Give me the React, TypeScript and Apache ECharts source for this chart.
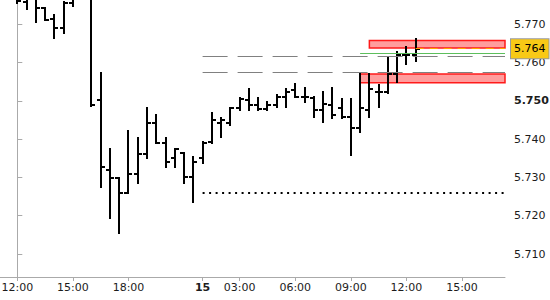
import { useEffect, useRef } from 'react';
import * as echarts from 'echarts';

// 30-minute OHLC bars (index = position on the time axis)
const barTimes = [
  '14 12:00', '14 12:30', '14 13:00', '14 13:30', '14 14:00', '14 14:30', '14 15:00', '14 15:30',
  '14 16:00', '14 16:30', '14 17:00', '14 17:30', '14 18:00', '14 18:30', '14 19:00', '14 19:30',
  '14 20:00', '14 20:30', '14 21:00', '14 21:30', '15 01:00', '15 01:30', '15 02:00', '15 02:30',
  '15 03:00', '15 03:30', '15 04:00', '15 04:30', '15 05:00', '15 05:30', '15 06:00', '15 06:30',
  '15 07:00', '15 07:30', '15 08:00', '15 08:30', '15 09:00', '15 09:30', '15 10:00', '15 10:30',
  '15 11:00', '15 11:30', '15 12:00', '15 12:30',
];
const opens = [
  5.7790, 5.7758, 5.7780, 5.7742, 5.7713, 5.7689, 5.7755, 5.7780,
  5.7790, 5.7502, 5.7319, 5.7298, 5.7259, 5.7309, 5.7360, 5.7442,
  5.7390, 5.7350, 5.7363, 5.7301, 5.7350, 5.7393, 5.7441, 5.7441,
  5.7480, 5.7502, 5.7489, 5.7478, 5.7489, 5.7510, 5.7528, 5.7510,
  5.7506, 5.7476, 5.7489, 5.7481, 5.7458, 5.7429, 5.7477, 5.7523,
  5.7523, 5.7571, 5.7619, 5.7619,
];
const highs = [
  5.7800, 5.7790, 5.7790, 5.7742, 5.7723, 5.7758, 5.7790, 5.7810,
  5.7800, 5.7573, 5.7374, 5.7298, 5.7421, 5.7403, 5.7481, 5.7463,
  5.7403, 5.7374, 5.7363, 5.7354, 5.7393, 5.7468, 5.7454, 5.7480,
  5.7506, 5.7532, 5.7506, 5.7497, 5.7515, 5.7532, 5.7543, 5.7533,
  5.7510, 5.7523, 5.7533, 5.7504, 5.7504, 5.7570, 5.7571, 5.7541,
  5.7611, 5.7628, 5.7641, 5.7660,
];
const lows = [
  5.7755, 5.7740, 5.7706, 5.7710, 5.7665, 5.7677, 5.7747, 5.7770,
  5.7487, 5.7276, 5.7194, 5.7156, 5.7259, 5.7286, 5.7350, 5.7390,
  5.7327, 5.7327, 5.7286, 5.7236, 5.7337, 5.7389, 5.7406, 5.7436,
  5.7476, 5.7476, 5.7476, 5.7476, 5.7484, 5.7484, 5.7510, 5.7497,
  5.7457, 5.7445, 5.7455, 5.7455, 5.7358, 5.7418, 5.7457, 5.7484,
  5.7519, 5.7549, 5.7597, 5.7604,
];
const closes = [
  5.7760, 5.7775, 5.7741, 5.7712, 5.7689, 5.7755, 5.7775, 5.7795,
  5.7489, 5.7328, 5.7298, 5.7258, 5.7309, 5.7360, 5.7442, 5.7390,
  5.7341, 5.7374, 5.7301, 5.7341, 5.7389, 5.7450, 5.7450, 5.7480,
  5.7504, 5.7489, 5.7478, 5.7489, 5.7510, 5.7522, 5.7510, 5.7510,
  5.7476, 5.7491, 5.7463, 5.7458, 5.7429, 5.7480, 5.7530, 5.7523,
  5.7571, 5.7619, 5.7619, 5.7636,
];

// Axis ticks
const xTickIndex = [0, 6, 12, 20, 24, 30, 36, 42, 48];
const xTickLabels = ['12:00', '15:00', '18:00', '15', '03:00', '06:00', '09:00', '12:00', '15:00'];
const xBoldLabels = ['15'];
const yTicks = [5.71, 5.72, 5.73, 5.74, 5.75, 5.76, 5.77];
const yBoldTicks = [5.75];

// Levels drawn on the chart
const dashedLevels = [5.7615, 5.7575];
const dashedStart = 20;
const dottedLevel = 5.7260;
const dottedStart = 20;
const greenLevel = 5.7624;
const greenStart = 37;
const redZones = [
  { start: 38, top: 5.7657, bottom: 5.7638 },
  { start: 37, top: 5.7570, bottom: 5.7547 },
];

const X_MIN = -1.867;
const X_MAX = 52.64;
const Y_MIN = 5.704;
const Y_MAX = 5.7763;

const FONT = 'DejaVu Sans';
const TEXT = '#1c1c1c';

export default function App() {
  const ref = useRef<HTMLDivElement>(null);

  useEffect(() => {
    if (!ref.current) return;
    const chart = echarts.init(ref.current, null, { renderer: 'svg' });

    const data = barTimes.map((_, i) => [i, opens[i], closes[i], lows[i], highs[i]]);
    const lastIdx = closes.length - 1;
    const lastClose = closes[lastIdx];

    const renderItem = (params: any, api: any) => {
      const x = api.value(0);
      const o = api.coord([x, api.value(1)]);
      const c = api.coord([x, api.value(2)]);
      const l = api.coord([x, api.value(3)]);
      const h = api.coord([x, api.value(4)]);
      const cx = Math.round(o[0]);
      const style = { stroke: '#000', lineWidth: 2, fill: null };
      return {
        type: 'group',
        children: [
          { type: 'line', shape: { x1: cx, y1: Math.round(h[1]) - 1, x2: cx, y2: Math.round(l[1]) + 1 }, style },
          { type: 'line', shape: { x1: cx - 4, y1: Math.round(o[1]), x2: cx, y2: Math.round(o[1]) }, style },
          { type: 'line', shape: { x1: cx, y1: Math.round(c[1]), x2: cx + 4, y2: Math.round(c[1]) }, style },
        ],
      };
    };

    const seg = (start: number, v: number, lineStyle: any) => [
      { coord: [start, v], lineStyle },
      { coord: [X_MAX, v] },
    ];

    const option: any = {
      animation: false,
      backgroundColor: '#fff',
      grid: { left: 0, top: 0, right: 45, bottom: 23, containLabel: false, outerBoundsMode: 'none' },
      xAxis: {
        type: 'value',
        min: X_MIN,
        max: X_MAX,
        splitLine: { show: false },
        axisLine: { show: true, onZero: false, lineStyle: { color: '#aaaaaa', width: 1 } },
        axisTick: { show: true, length: 4, customValues: xTickIndex, lineStyle: { color: '#aaaaaa' } },
        axisLabel: {
          customValues: xTickIndex,
          margin: 5,
          color: TEXT,
          fontSize: 11,
          fontFamily: FONT,
          formatter: (v: number) => {
            const k = xTickIndex.indexOf(Math.round(v));
            const s = k >= 0 ? xTickLabels[k] : '';
            return xBoldLabels.includes(s) ? `{b|${s}}` : s;
          },
          rich: { b: { fontWeight: 'bold', fontSize: 11, fontFamily: FONT, color: TEXT } },
        },
      },
      yAxis: {
        type: 'value',
        position: 'right',
        min: Y_MIN,
        max: Y_MAX,
        scale: true,
        splitLine: { show: false },
        axisLine: { show: true, lineStyle: { color: '#aaaaaa', width: 1 } },
        axisTick: { show: true, length: 5, customValues: yTicks, lineStyle: { color: '#aaaaaa' } },
        axisLabel: {
          customValues: yTicks,
          margin: 9,
          color: TEXT,
          fontSize: 11,
          fontFamily: FONT,
          formatter: (v: number) => {
            const s = v.toFixed(3);
            return yBoldTicks.some((b) => Math.abs(b - v) < 1e-6) ? `{b|${s}}` : s;
          },
          rich: { b: { fontWeight: 'bold', fontSize: 11, fontFamily: FONT, color: TEXT } },
        },
      },
      series: [
        {
          type: 'line',
          data: [],
          z: 1,
          silent: true,
          markArea: {
            silent: true,
            itemStyle: { color: 'rgba(255,60,60,0.5)', borderColor: '#ff1a1a', borderWidth: 1.5 },
            data: redZones.map((z) => [
              { coord: [z.start, z.top] },
              { coord: [X_MAX, z.bottom] },
            ]),
          },
          markLine: {
            silent: true,
            symbol: ['none', 'none'],
            label: { show: false },
            data: [
              ...dashedLevels.map((v) => seg(dashedStart, v, { color: '#808080', width: 1, type: [25, 10] })),
              seg(dottedStart, dottedLevel, { color: '#000', width: 2, type: [2, 4.5] }),
              seg(greenStart, greenLevel, { color: '#5cbf5c', width: 1, type: 'solid' }),
            ],
          },
        },
        {
          type: 'custom',
          renderItem,
          data,
          encode: { x: 0, y: [1, 2, 3, 4] },
          clip: true,
          z: 3,
        },
        {
          type: 'line',
          data: [],
          z: 4,
          silent: true,
          markLine: {
            silent: true,
            symbol: ['none', 'none'],
            data: [
              [
                {
                  coord: [lastIdx, lastClose],
                  lineStyle: { color: '#ffa500', width: 1, type: [8, 6] },
                  label: {
                    show: true,
                    position: 'end',
                    distance: 6,
                    formatter: () => lastClose.toFixed(3),
                    color: '#000',
                    fontSize: 11,
                    fontFamily: FONT,
                    backgroundColor: '#f8c916',
                    borderColor: '#9a9a9a',
                    borderWidth: 1,
                    padding: [4, 3, 4, 3],
                  },
                },
                { coord: [X_MAX, lastClose] },
              ],
            ],
          },
        },
      ],
    };

    chart.setOption(option);
    return () => chart.dispose();
  }, []);

  return (
    <div
      ref={ref}
      style={{ position: 'absolute', left: 0, top: 0, width: 550, height: 300, background: '#fff' }}
    />
  );
}
